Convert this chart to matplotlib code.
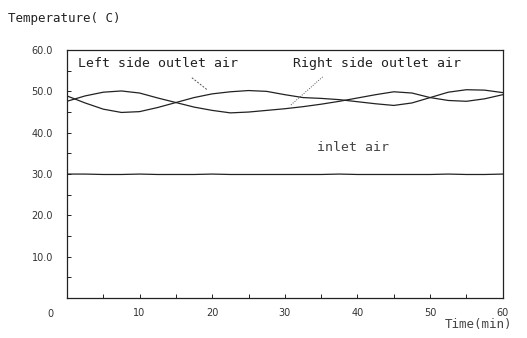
import numpy as np
import matplotlib.pyplot as plt

# time axis (min) and readings (deg C)
time_min = [0, 2.5, 5, 7.5, 10, 12.5, 15, 17.5, 20, 22.5, 25, 27.5, 30,
            32.5, 35, 37.5, 40, 42.5, 45, 47.5, 50, 52.5, 55, 57.5, 60]
left_outlet = [48.9, 47.2, 45.7, 44.9, 45.1, 46.1, 47.3, 48.5, 49.4, 49.9, 50.2, 50.0, 49.2,
               48.5, 48.3, 48.0, 47.5, 47.0, 46.6, 47.2, 48.5, 49.8, 50.4, 50.3, 49.7]
right_outlet = [47.6, 48.9, 49.8, 50.1, 49.6, 48.4, 47.3, 46.2, 45.4, 44.8, 45.0, 45.4, 45.8,
                46.3, 46.9, 47.6, 48.4, 49.2, 49.9, 49.6, 48.5, 47.8, 47.6, 48.2, 49.2]
inlet = [30.0, 30.0, 29.9, 29.9, 30.0, 29.9, 29.9, 29.9, 30.0, 29.9, 29.9, 29.9, 29.9,
         29.9, 29.9, 30.0, 29.9, 29.9, 29.9, 29.9, 29.9, 30.0, 29.9, 29.9, 30.0]

y_ticks = [10, 20, 30, 40, 50, 60]
y_labels = ['10.0', '20.0', '30.0', '40.0', '50.0', '60.0']
x_ticks = [10, 20, 30, 40, 50, 60]

mono = 'DejaVu Sans Mono'
ink = '#222222'

fig = plt.figure(figsize=(5.27, 3.38), dpi=100)
ax = fig.add_axes([0.127, 0.118, 0.827, 0.734])

ax.plot(time_min, left_outlet, color=ink, lw=0.9)
ax.plot(time_min, right_outlet, color=ink, lw=0.9)
ax.plot(time_min, inlet, color=ink, lw=0.9)

ax.set_xlim(0, 60)
ax.set_ylim(0, 60)
ax.set_xticks(x_ticks)
ax.set_xticks(np.arange(5, 60, 10), minor=True)
ax.set_yticks(y_ticks)
ax.set_yticklabels(y_labels)
ax.set_yticks(np.arange(5, 60, 10), minor=True)
ax.tick_params(which='both', direction='in', length=3, width=0.7, color=ink,
               labelsize=7, labelcolor='#333333')
ax.tick_params(axis='x', pad=7)
ax.tick_params(axis='y', pad=10)
for s in ax.spines.values():
    s.set_color(ink)
    s.set_linewidth(0.9)

# the shared zero label sits below the corner
ax.text(-2.3, -2.6, '0', fontsize=7, color='#333333', ha='center', va='top', clip_on=False)

# curve labels and pointers
ax.text(1.5, 55.9, 'Left side outlet air', family=mono, fontsize=9.5, color=ink)
ax.text(31.1, 56.0, 'Right side outlet air', family=mono, fontsize=9.5, color=ink)
ax.text(34.4, 35.6, 'inlet air', family=mono, fontsize=9.5, color='#444444')
ax.plot([17.2, 19.3], [53.3, 50.4], color='#555555', lw=0.7, ls=(0, (2, 1.5)))
ax.plot([35.2, 30.7], [53.5, 46.5], color='#555555', lw=0.7, ls=(0, (1, 1.5)))

fig.text(8 / 527, 1 - 22 / 338, 'Temperature( C)', family=mono, fontsize=9, color=ink)
fig.text(445 / 527, 1 - 328 / 338, 'Time(min)', family=mono, fontsize=9, color='#444444')

fig.savefig('out.png', dpi=100, facecolor='white')
